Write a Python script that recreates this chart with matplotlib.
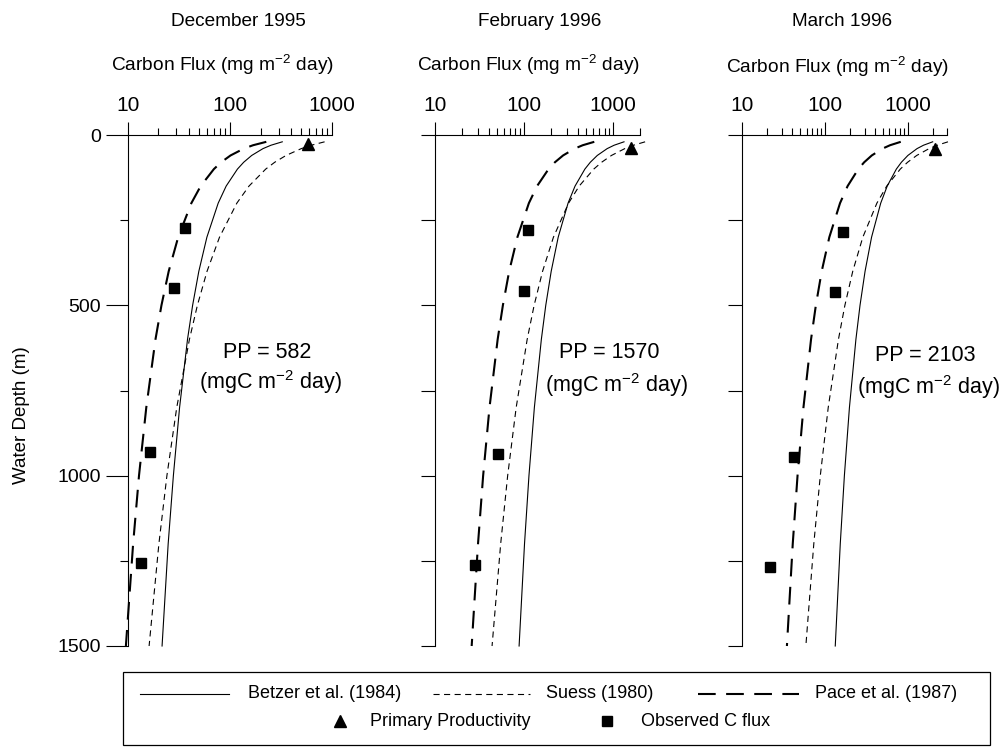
import matplotlib
matplotlib.use('Agg')
import matplotlib.pyplot as plt
import numpy as np
from matplotlib.ticker import LogLocator, NullFormatter, FixedLocator
from matplotlib.lines import Line2D
from matplotlib.patches import Rectangle

plt.rcParams['font.family'] = ['Liberation Sans', 'DejaVu Sans']
plt.rcParams['mathtext.default'] = 'regular'

W, H = 1003, 747

# ---------------- data ----------------
depth = [20, 30, 40, 60, 80, 100, 150, 200, 300, 400, 500, 600, 800, 1000, 1200, 1500]

betzer_dec = [326, 252.9, 211, 163.7, 136.6, 118.7, 92.0, 76.9, 59.6, 49.7, 43.2, 38.5, 32.2, 28.0, 24.9, 21.7]
suess_dec = [846, 628.5, 500, 355, 275, 224.5, 153.9, 117.1, 79.2, 59.8, 48.1, 40.2, 30.2, 24.2, 20.2, 16.2]
pace_dec = [227.5, 168.9, 136.8, 101.6, 82.2, 69.8, 51.8, 42.0, 31.2, 25.2, 21.4, 18.7, 15.2, 12.9, 11.3, 9.6]

betzer_feb = [1323, 1025, 855.7, 663.4, 553.8, 481.3, 373.1, 311.6, 241.5, 201.5, 175.1, 156.2, 130.4, 113.4, 101.1, 87.9]
suess_feb = [2282, 1695.5, 1349, 957, 742, 605.7, 415.1, 315.8, 213.5, 161.3, 129.6, 108.3, 81.5, 65.4, 54.6, 43.7]
pace_feb = [613.6, 455.6, 368.9, 274.0, 221.8, 188.2, 139.8, 113.2, 84.1, 68.0, 57.8, 50.5, 40.9, 34.7, 30.4, 25.8]

betzer_mar = [1998, 1548, 1292, 1002, 836.4, 727.0, 563.5, 470.6, 364.7, 304.4, 264.5, 235.9, 197.0, 171.2, 152.7, 132.8]
suess_mar = [3057, 2271, 1807, 1282, 993.9, 811.3, 556.1, 423.0, 286.0, 216.1, 173.6, 145.1, 109.2, 87.6, 73.1, 58.6]
pace_mar = [821.9, 610.3, 494.2, 367.0, 297.1, 252.1, 187.2, 151.7, 112.6, 91.1, 77.4, 67.7, 54.8, 46.5, 40.7, 34.6]

obs_depth_dec = [272, 448, 931, 1255]
obs_flux_dec = [36.6, 28.1, 16.7, 13.4]
obs_depth_feb = [279, 457, 937, 1262]
obs_flux_feb = [109.6, 100.4, 50.5, 28.1]
obs_depth_mar = [284, 462, 944, 1269]
obs_flux_mar = [163, 132, 41.7, 21.9]

pp_values = [582, 1570, 2103]
pp_depths = [26, 37, 40]

titles = ["December 1995", "February 1996", "March 1996"]
x_max = [1000, 2000, 3000]
depth_ticks = [0, 500, 1000, 1500]
depth_minor = [250, 750, 1250]
flux_ticks = [10, 100, 1000]
flux_tick_labels = ["10", "100", "1000"]

betzer = [betzer_dec, betzer_feb, betzer_mar]
suess = [suess_dec, suess_feb, suess_mar]
pace = [pace_dec, pace_feb, pace_mar]
obs_d = [obs_depth_dec, obs_depth_feb, obs_depth_mar]
obs_f = [obs_flux_dec, obs_flux_feb, obs_flux_mar]

# ---------------- layout (pixels) ----------------
panel_lr = [(127.7, 332.0), (435.0, 640.0), (742.3, 947.3)]
top_px, bot_px = 135.0, 646.0
title_pos = [(238, 21), (540, 21), (842, 21)]
xlabel_pos = [(222.5, 65), (529, 65), (837.5, 67)]
pp_pos = [((267.5, 352), (270, 382)), ((609, 352), (616, 385)), ((925.5, 356), (928, 387))]

fig = plt.figure(figsize=(W / 100, H / 100), dpi=100)

def fx(x):
    return x / W

def fy(y):
    return 1 - y / H

SOLID = dict(color='black', lw=0.8, ls='-')
SHORT = dict(color='black', lw=0.8, dashes=(5.5, 4.0))
LONG = dict(color='black', lw=1.5, dashes=(8.5, 5.0))

for i in range(3):
    l, r = panel_lr[i]
    ax = fig.add_axes([fx(l), fy(bot_px), (r - l) / W, (bot_px - top_px) / H])
    ax.set_xscale('log')
    ax.set_xlim(10, x_max[i])
    ax.set_ylim(1500, 0)
    for s in ['right', 'bottom']:
        ax.spines[s].set_visible(False)
    for s in ['left', 'top']:
        ax.spines[s].set_linewidth(0.8)
    ax.xaxis.set_ticks_position('top')
    ax.set_xticks(flux_ticks)
    ax.set_xticklabels(flux_tick_labels, fontsize=15)
    ax.xaxis.set_minor_locator(LogLocator(base=10, subs=np.arange(2, 10)))
    ax.xaxis.set_minor_formatter(NullFormatter())
    ax.tick_params(axis='x', which='major', direction='out', length=9.5, width=0.8, pad=5)
    ax.tick_params(axis='x', which='minor', direction='out', length=5, width=0.8)

    if i == 0:
        ax.set_yticks(depth_ticks)
        ax.set_yticklabels([str(v) for v in depth_ticks], fontsize=14)
        ax.yaxis.set_minor_locator(FixedLocator(depth_minor))
        ax.tick_params(axis='y', which='major', direction='out', length=16, width=0.8, pad=3)
        ax.tick_params(axis='y', which='minor', direction='out', length=6, width=0.8)
    else:
        ax.set_yticks(sorted(depth_ticks + depth_minor))
        ax.set_yticklabels([])
        ax.tick_params(axis='y', which='major', direction='out', length=10, width=0.8)

    ax.plot(betzer[i], depth, clip_on=False, **SOLID)
    ax.plot(suess[i], depth, clip_on=False, **SHORT)
    ax.plot(pace[i], depth, clip_on=False, **LONG)
    ax.plot(obs_f[i], obs_d[i], ls='none', marker='s', ms=6.8, color='black', clip_on=False)
    ax.plot([pp_values[i]], [pp_depths[i]], ls='none', marker='^', ms=8.5, color='black',
            clip_on=False, zorder=5)

    fig.text(fx(title_pos[i][0]), fy(title_pos[i][1]), titles[i], fontsize=13.7,
             ha='center', va='center')
    fig.text(fx(xlabel_pos[i][0]), fy(xlabel_pos[i][1]), 'Carbon Flux (mg m$^{-2}$ day)',
             fontsize=13.8, ha='center', va='center')
    (p1, p2) = pp_pos[i]
    fig.text(fx(p1[0]), fy(p1[1]), 'PP = %d' % pp_values[i], fontsize=15.5,
             ha='center', va='center')
    fig.text(fx(p2[0]), fy(p2[1]), '(mgC m$^{-2}$ day)', fontsize=15.5,
             ha='center', va='center')

fig.text(fx(22), fy(415), 'Water Depth (m)', rotation=90, fontsize=13.5,
         ha='center', va='center')

# ---------------- legend (pixel coordinates) ----------------
lax = fig.add_axes([0, 0, 1, 1])
lax.set_xlim(0, W)
lax.set_ylim(H, 0)
lax.axis('off')
lax.add_patch(Rectangle((123, 672), 990 - 123, 745 - 672, fill=False, lw=0.9, ec='black'))
LF = dict(fontsize=13, va='center', ha='left')
r1, r2 = 694, 721
lax.add_line(Line2D([140, 229], [r1, r1], **SOLID))
lax.text(248, r1, 'Betzer et al. (1984)', **LF)
lax.add_line(Line2D([433, 530], [r1, r1], **SHORT))
lax.text(546, r1, 'Suess (1980)', **LF)
lax.add_line(Line2D([698, 799], [r1, r1], **LONG))
lax.text(815, r1, 'Pace et al. (1987)', **LF)
lax.plot([340], [r2], marker='^', ms=8.5, color='black', ls='none')
lax.text(370, r2, 'Primary Productivity', **LF)
lax.plot([607], [r2], marker='s', ms=7.5, color='black', ls='none')
lax.text(641, r2, 'Observed C flux', **LF)

fig.savefig('out.png', dpi=100)
